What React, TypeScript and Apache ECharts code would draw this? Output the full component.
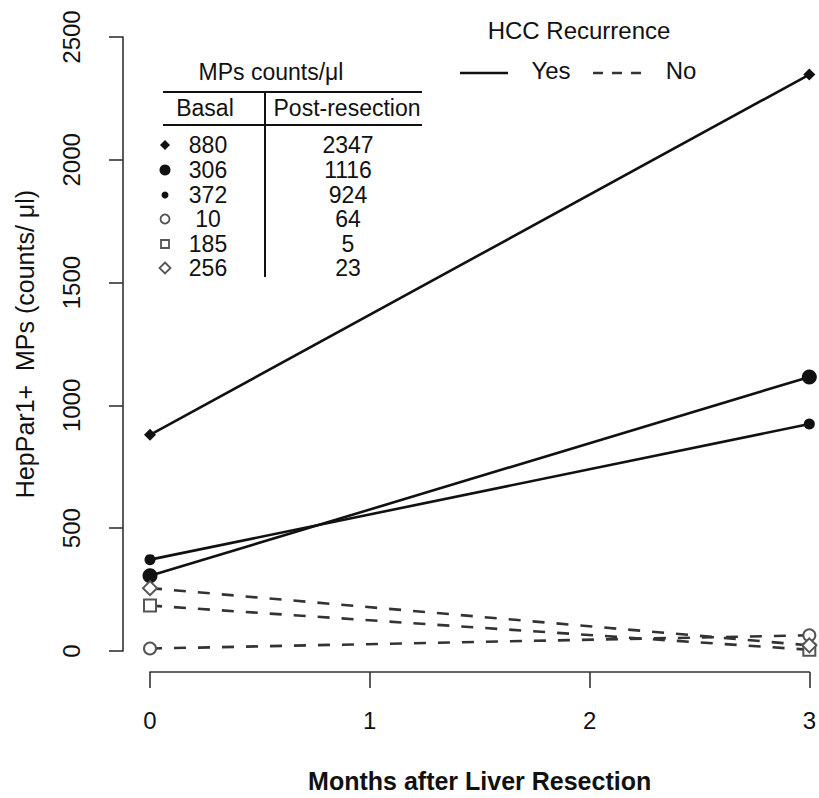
import React, { useEffect, useRef } from "react";
import * as echarts from "echarts";

const months = [0, 3];
const basal = [880, 306, 372, 10, 185, 256];
const postResection = [2347, 1116, 924, 64, 5, 23];
const recurrence = ["Yes", "Yes", "Yes", "No", "No", "No"];
const symbols = ["diamond", "circle", "circle", "emptyCircle", "emptyRect", "emptyDiamond"];
const symbolSizes = [12, 15, 11, 12, 12, 14];
const xTicks = [0, 1, 2, 3];
const yTicks = [0, 500, 1000, 1500, 2000, 2500];

const FONT = "'Liberation Sans', Arial, Helvetica, sans-serif";
const INK = "#111";
const GRAY = "#555";

export default function App() {
  const ref = useRef<HTMLDivElement>(null);
  useEffect(() => {
    document.body.style.margin = "0";
    const chart = echarts.init(ref.current!, null, { renderer: "svg" });

    const series = basal.map((b, i) => {
      const yes = recurrence[i] === "Yes";
      return {
        type: "line",
        name: recurrence[i],
        data: [
          [months[0], b],
          [months[1], postResection[i]],
        ],
        symbol: symbols[i],
        symbolSize: symbolSizes[i],
        showSymbol: true,
        clip: false,
        lineStyle: {
          color: yes ? INK : "#333",
          width: 2.6,
          type: yes ? "solid" : [12, 12],
        },
        itemStyle: {
          color: yes ? INK : GRAY,
          borderColor: yes ? INK : GRAY,
          borderWidth: yes ? 0 : 2,
        },
        z: 3,
      };
    });

    // table legend
    const rowY = [145, 170, 195, 219, 244, 268];
    const markerX = 165;
    const tableText = (text: string, x: number, y: number, size = 23) => ({
      type: "text",
      x,
      y,
      style: {
        text,
        fill: INK,
        font: `${size}px ${FONT}`,
        align: "center",
        verticalAlign: "middle",
      },
    });
    const markerGraphic = (i: number, y: number) => {
      switch (i) {
        case 0:
          return { type: "polygon", shape: { points: [[markerX, y - 5], [markerX + 5, y], [markerX, y + 5], [markerX - 5, y]] }, style: { fill: INK } };
        case 1:
          return { type: "circle", shape: { cx: markerX, cy: y, r: 5.5 }, style: { fill: INK } };
        case 2:
          return { type: "circle", shape: { cx: markerX, cy: y, r: 3.5 }, style: { fill: INK } };
        case 3:
          return { type: "circle", shape: { cx: markerX, cy: y, r: 4.5 }, style: { fill: "#fff", stroke: GRAY, lineWidth: 1.8 } };
        case 4:
          return { type: "rect", shape: { x: markerX - 4, y: y - 4, width: 8, height: 8 }, style: { fill: "#fff", stroke: GRAY, lineWidth: 1.8 } };
        default:
          return { type: "polygon", shape: { points: [[markerX, y - 5.5], [markerX + 5.5, y], [markerX, y + 5.5], [markerX - 5.5, y]] }, style: { fill: "#fff", stroke: GRAY, lineWidth: 1.8 } };
      }
    };
    const graphics: any[] = [
      tableText("MPs counts/\u03bcl", 271, 72),
      { type: "line", shape: { x1: 163, y1: 92, x2: 422, y2: 92 }, style: { stroke: INK, lineWidth: 2 } },
      tableText("Basal", 205, 108),
      tableText("Post-resection", 347, 108),
      { type: "line", shape: { x1: 163, y1: 125, x2: 422, y2: 125 }, style: { stroke: INK, lineWidth: 2 } },
      { type: "line", shape: { x1: 265, y1: 92, x2: 265, y2: 277 }, style: { stroke: INK, lineWidth: 2 } },
    ];
    basal.forEach((b, i) => {
      graphics.push(markerGraphic(i, rowY[i]));
      graphics.push(tableText(String(b), 208, rowY[i]));
      graphics.push(tableText(String(postResection[i]), 348, rowY[i]));
    });
    // HCC recurrence legend
    graphics.push(
      {
        type: "text", x: 579, y: 30,
        style: { text: "HCC Recurrence", fill: INK, font: `24px ${FONT}`, align: "center", verticalAlign: "middle" },
      },
      { type: "line", shape: { x1: 460, y1: 73, x2: 508, y2: 73 }, style: { stroke: INK, lineWidth: 2.6 } },
      {
        type: "text", x: 551, y: 70,
        style: { text: "Yes", fill: INK, font: `24px ${FONT}`, align: "center", verticalAlign: "middle" },
      },
      { type: "line", shape: { x1: 593, y1: 73, x2: 642, y2: 73 }, style: { stroke: "#333", lineWidth: 2.6, lineDash: [10, 9] } },
      {
        type: "text", x: 681, y: 70,
        style: { text: "No", fill: INK, font: `24px ${FONT}`, align: "center", verticalAlign: "middle" },
      }
    );

    chart.setOption({
      animation: false,
      backgroundColor: "#fff",
      textStyle: { fontFamily: FONT },
      grid: { left: 150, top: 37, width: 663, height: 618, containLabel: false },
      xAxis: {
        type: "value",
        min: xTicks[0],
        max: xTicks[xTicks.length - 1],
        interval: 1,
        offset: 21,
        axisLine: { show: true, onZero: false, lineStyle: { color: "#333", width: 1.6 } },
        axisTick: { show: true, length: 16, inside: false, lineStyle: { color: "#333", width: 1.6 } },
        axisLabel: { fontSize: 24, color: INK, margin: 36, fontFamily: FONT, formatter: (v: number) => String(v) },
        splitLine: { show: false },
        name: "Months after Liver Resection",
        nameLocation: "middle",
        nameGap: 96,
        nameTextStyle: { fontSize: 25, fontWeight: "bold", color: INK, fontFamily: FONT },
      },
      yAxis: {
        type: "value",
        min: yTicks[0],
        max: yTicks[yTicks.length - 1],
        interval: 500,
        offset: 27,
        axisLine: { show: true, onZero: false, lineStyle: { color: "#333", width: 1.6 } },
        axisTick: { show: true, length: 14, inside: false, lineStyle: { color: "#333", width: 1.6 } },
        axisLabel: { fontSize: 24, color: INK, margin: 40, rotate: 90, fontFamily: FONT, formatter: (v: number) => String(v) },
        splitLine: { show: false },
        name: "HepPar1+  MPs (counts/ \u03bcl)",
        nameLocation: "middle",
        nameGap: 86,
        nameTextStyle: { fontSize: 25, color: INK, fontFamily: FONT },
      },
      series,
      graphic: graphics,
    });
    return () => chart.dispose();
  }, []);
  return <div ref={ref} style={{ width: 819, height: 798 }} />;
}
